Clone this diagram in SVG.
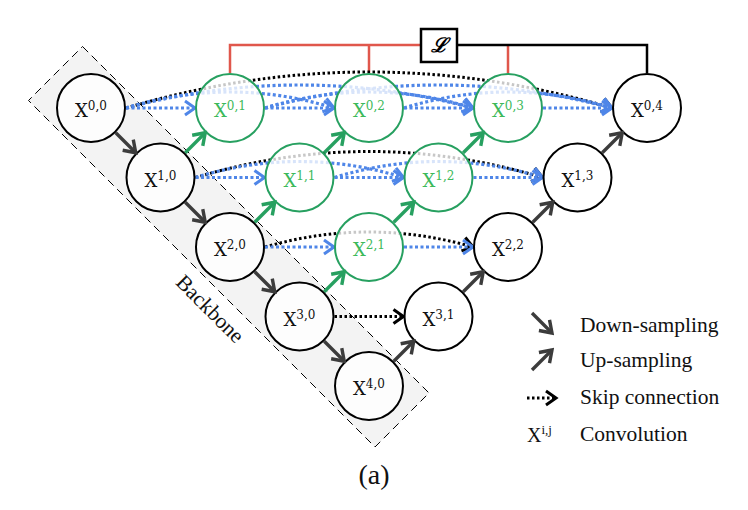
<svg xmlns="http://www.w3.org/2000/svg" width="748" height="510" viewBox="0 0 748 510">
<style>
.nd{fill:#fff;fill-opacity:0.78;stroke:#000;stroke-width:2}
.ng{fill:#fff;fill-opacity:0.78;stroke:#27a060;stroke-width:2}
.lb{font-family:"DejaVu Serif",serif;font-size:18px;fill:#111}
.lg{font-family:"DejaVu Serif",serif;font-size:18px;fill:#3cb95a}
.sp{font-size:12px}
.bk{fill:none;stroke:#000;stroke-width:3;stroke-dasharray:2.5 2.5}
.bl{fill:none;stroke:#4f86e8;stroke-width:3.2;stroke-dasharray:3 2.5}
.up{fill:none;stroke:#27a060;stroke-width:3.4}
.dk{fill:none;stroke:#3c3c3c;stroke-width:3.4}
.leg{font-family:"Liberation Serif",serif;font-size:21.5px;fill:#111}
</style>
<defs>
<marker id="mb" viewBox="-14 -10 17 20" refX="0" refY="0" markerWidth="17" markerHeight="20" markerUnits="userSpaceOnUse" orient="auto"><path d="M-10,-7 L0,0 L-10,7" fill="none" stroke="#4f86e8" stroke-width="3"/></marker>
<marker id="mk" viewBox="-14 -10 17 20" refX="0" refY="0" markerWidth="17" markerHeight="20" markerUnits="userSpaceOnUse" orient="auto"><path d="M-10,-7 L0,0 L-10,7" fill="none" stroke="#000" stroke-width="3"/></marker>
<marker id="mg" viewBox="-14 -10 17 20" refX="0" refY="0" markerWidth="17" markerHeight="20" markerUnits="userSpaceOnUse" orient="auto"><path d="M-11,-7.5 L0,0 L-11,7.5" fill="none" stroke="#27a060" stroke-width="3.4"/></marker>
<marker id="md" viewBox="-14 -10 17 20" refX="0" refY="0" markerWidth="17" markerHeight="20" markerUnits="userSpaceOnUse" orient="auto"><path d="M-11,-7.5 L0,0 L-11,7.5" fill="none" stroke="#3c3c3c" stroke-width="3.4"/></marker>
</defs>
<rect width="748" height="510" fill="#fff"/>
<g id="backbone">
<polygon points="82.5,46.5 429,393 375,447 28.5,100.5" fill="#f3f3f3" stroke="#000" stroke-width="1" stroke-dasharray="8 5"/>
<text transform="translate(210,309) rotate(45)" x="0" y="7" text-anchor="middle" font-family="Liberation Serif, serif" font-size="21.5" fill="#111">Backbone</text>
</g>
<g id="loss">
<path d="M230,73 V45 H421 M369,45 V73 M508,45 V73" fill="none" stroke="#e0574c" stroke-width="2.5"/>
<path d="M457,45 H647 V73" fill="none" stroke="#000" stroke-width="2.5"/>
<rect x="421" y="29" width="36" height="33" fill="#fff" stroke="#000" stroke-width="2.5"/>
<text x="439" y="52" text-anchor="middle" font-family="DejaVu Serif, serif" font-size="20" font-weight="bold" font-style="italic" fill="#000">ℒ</text>
</g>
<g id="connectors">
<path class="bk" marker-end="url(#mk)" d="M126,108 Q369,36 612,108"/>
<path class="bk" marker-end="url(#mk)" d="M195.5,177.5 Q369,125.5 542.5,177.5"/>
<path class="bk" marker-end="url(#mk)" d="M265,247 Q369,217 473,247"/>
<path class="bk" marker-end="url(#mk)" d="M334.5,316.5 L403.5,316.5"/>
<path class="bl" marker-end="url(#mb)" d="M126,108 Q230,76 334,108"/>
<path class="bl" marker-end="url(#mb)" d="M126,108 Q299.5,62 473,108"/>
<path class="bl" marker-end="url(#mb)" d="M265,108 Q369,76 473,108"/>
<path class="bl" marker-end="url(#mb)" d="M265,108 Q438.5,62 612,108"/>
<path class="bl" marker-end="url(#mb)" d="M404,108 Q508,76 612,108"/>
<path class="bl" marker-end="url(#mb)" d="M195.5,177.5 Q299.5,145.5 403.5,177.5"/>
<path class="bl" marker-end="url(#mb)" d="M334.5,177.5 Q438.5,145.5 542.5,177.5"/>
<path class="bl" marker-end="url(#mb)" d="M126,108 L195,108"/>
<path class="bl" marker-end="url(#mb)" d="M265,108 L334,108"/>
<path class="bl" marker-end="url(#mb)" d="M404,108 L473,108"/>
<path class="bl" marker-end="url(#mb)" d="M543,108 L612,108"/>
<path class="bl" marker-end="url(#mb)" d="M195.5,177.5 L264.5,177.5"/>
<path class="bl" marker-end="url(#mb)" d="M334.5,177.5 L403.5,177.5"/>
<path class="bl" marker-end="url(#mb)" d="M473.5,177.5 L542.5,177.5"/>
<path class="bl" marker-end="url(#mb)" d="M265,247 L334,247"/>
<path class="bl" marker-end="url(#mb)" d="M404,247 L473,247"/>
</g>
<g id="n00"><circle class="nd" cx="91" cy="108" r="34"/><text class="lb" x="91" y="117" text-anchor="middle">X<tspan class="sp" dy="-7">0,0</tspan></text></g>
<g id="n10"><circle class="nd" cx="160.5" cy="177.5" r="34"/><text class="lb" x="160.5" y="186.5" text-anchor="middle">X<tspan class="sp" dy="-7">1,0</tspan></text></g>
<g id="n20"><circle class="nd" cx="230" cy="247" r="34"/><text class="lb" x="230" y="256" text-anchor="middle">X<tspan class="sp" dy="-7">2,0</tspan></text></g>
<g id="n30"><circle class="nd" cx="299.5" cy="316.5" r="34"/><text class="lb" x="299.5" y="325.5" text-anchor="middle">X<tspan class="sp" dy="-7">3,0</tspan></text></g>
<g id="n40"><circle class="nd" cx="369" cy="386" r="34"/><text class="lb" x="369" y="395" text-anchor="middle">X<tspan class="sp" dy="-7">4,0</tspan></text></g>
<g id="n01"><circle class="ng" cx="230" cy="108" r="34"/><text class="lg" x="230" y="117" text-anchor="middle">X<tspan class="sp" dy="-7">0,1</tspan></text></g>
<g id="n02"><circle class="ng" cx="369" cy="108" r="34"/><text class="lg" x="369" y="117" text-anchor="middle">X<tspan class="sp" dy="-7">0,2</tspan></text></g>
<g id="n03"><circle class="ng" cx="508" cy="108" r="34"/><text class="lg" x="508" y="117" text-anchor="middle">X<tspan class="sp" dy="-7">0,3</tspan></text></g>
<g id="n04"><circle class="nd" cx="647" cy="108" r="34"/><text class="lb" x="647" y="117" text-anchor="middle">X<tspan class="sp" dy="-7">0,4</tspan></text></g>
<g id="n11"><circle class="ng" cx="299.5" cy="177.5" r="34"/><text class="lg" x="299.5" y="186.5" text-anchor="middle">X<tspan class="sp" dy="-7">1,1</tspan></text></g>
<g id="n12"><circle class="ng" cx="438.5" cy="177.5" r="34"/><text class="lg" x="438.5" y="186.5" text-anchor="middle">X<tspan class="sp" dy="-7">1,2</tspan></text></g>
<g id="n13"><circle class="nd" cx="577.5" cy="177.5" r="34"/><text class="lb" x="577.5" y="186.5" text-anchor="middle">X<tspan class="sp" dy="-7">1,3</tspan></text></g>
<g id="n21"><circle class="ng" cx="369" cy="247" r="34"/><text class="lg" x="369" y="256" text-anchor="middle">X<tspan class="sp" dy="-7">2,1</tspan></text></g>
<g id="n22"><circle class="nd" cx="508" cy="247" r="34"/><text class="lb" x="508" y="256" text-anchor="middle">X<tspan class="sp" dy="-7">2,2</tspan></text></g>
<g id="n31"><circle class="nd" cx="438.5" cy="316.5" r="34"/><text class="lb" x="438.5" y="325.5" text-anchor="middle">X<tspan class="sp" dy="-7">3,1</tspan></text></g>
<g id="sampling">
<path class="dk" marker-end="url(#md)" d="M115.75,132.75 L135.75,152.75"/>
<path class="dk" marker-end="url(#md)" d="M185.25,202.25 L205.25,222.25"/>
<path class="dk" marker-end="url(#md)" d="M254.75,271.75 L274.75,291.75"/>
<path class="dk" marker-end="url(#md)" d="M324.25,341.25 L344.25,361.25"/>
<path class="up" marker-end="url(#mg)" d="M185.25,152.75 L205.25,132.75"/>
<path class="up" marker-end="url(#mg)" d="M324.25,152.75 L344.25,132.75"/>
<path class="up" marker-end="url(#mg)" d="M463.25,152.75 L483.25,132.75"/>
<path class="up" marker-end="url(#mg)" d="M254.75,222.25 L274.75,202.25"/>
<path class="up" marker-end="url(#mg)" d="M393.75,222.25 L413.75,202.25"/>
<path class="up" marker-end="url(#mg)" d="M324.25,291.75 L344.25,271.75"/>
<path class="dk" marker-end="url(#md)" d="M393.75,361.25 L413.75,341.25"/>
<path class="dk" marker-end="url(#md)" d="M463.25,291.75 L483.25,271.75"/>
<path class="dk" marker-end="url(#md)" d="M532.75,222.25 L552.75,202.25"/>
<path class="dk" marker-end="url(#md)" d="M602.25,152.75 L622.25,132.75"/>
</g>
<g id="legend">
<path class="dk" marker-end="url(#md)" d="M532,313 L552,333"/>
<text class="leg" x="580" y="332">Down-sampling</text>
<path class="dk" marker-end="url(#md)" d="M532,370 L552,350"/>
<text class="leg" x="580" y="367">Up-sampling</text>
<path class="bk" marker-end="url(#mk)" d="M527,398 L556,398"/>
<text class="leg" x="580" y="404">Skip connection</text>
<text font-family="Liberation Serif, serif" font-size="20" fill="#111" x="527" y="442">X<tspan font-size="13" dy="-8">i,j</tspan></text>
<text class="leg" x="580" y="441">Convolution</text>
</g>
<text x="374" y="484" text-anchor="middle" font-family="Liberation Serif, serif" font-size="28" fill="#111">(a)</text>
</svg>
